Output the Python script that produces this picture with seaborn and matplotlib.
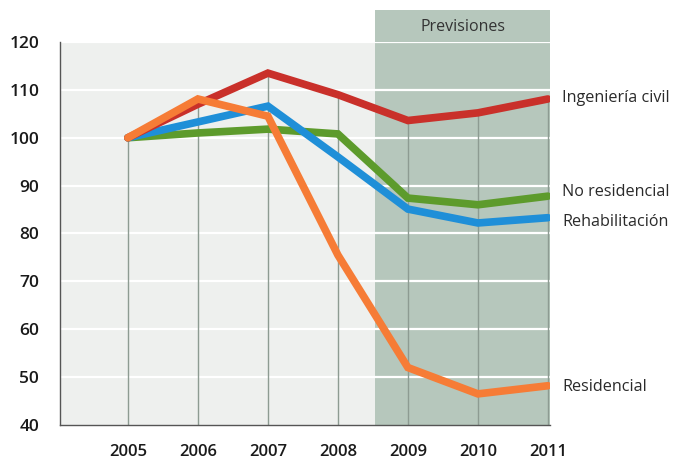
import matplotlib
matplotlib.use("Agg")
import matplotlib.pyplot as plt
import seaborn as sns
import pandas as pd
from matplotlib.patches import Rectangle

years = [2005, 2006, 2007, 2008, 2009, 2010, 2011]
ingenieria = [100, 107, 113.5, 109, 103.6, 105.2, 108.1]
rehabilitacion = [100, 103.3, 106.6, 96, 85.1, 82.2, 83.3]
no_residencial = [100, 101, 101.8, 100.8, 87.4, 86, 87.8]
residencial = [100, 108.1, 104.5, 75.5, 52, 46.5, 48.2]
series_names = ["No residencial", "Rehabilitación", "Ingeniería civil", "Residencial"]
series_vals = [no_residencial, rehabilitacion, ingenieria, residencial]
colors = {"Ingeniería civil": "#c9302a", "Rehabilitación": "#1f8fd8",
          "No residencial": "#5d9b2c", "Residencial": "#f67c36"}
yticks = [40, 50, 60, 70, 80, 90, 100, 110, 120]

rows = []
for name, vals in zip(series_names, series_vals):
    for y, v in zip(years, vals):
        rows.append({"year": y, "value": v, "serie": name})
df = pd.DataFrame(rows)

sns.set_theme(style="white")
plt.rcParams["font.family"] = ["Open Sans", "DejaVu Sans"]

fig = plt.figure(figsize=(6.74, 4.59), dpi=100)
ax = fig.add_axes([60/674, 34/459, 490/674, 383/459])
xmin, xmax = 2004.03, 2011.03
ymin, ymax = 40, 120
ax.set_xlim(xmin, xmax)
ax.set_ylim(ymin, ymax)

# backgrounds
ax.add_patch(Rectangle((xmin, ymin), 2008.53 - xmin, ymax - ymin,
                       facecolor="#eef0ee", edgecolor="none", zorder=0))
ax.add_patch(Rectangle((2008.53, ymin), xmax - 2008.53, 126.7 - ymin,
                       facecolor="#b6c7bc", edgecolor="none", zorder=0, clip_on=False))
# horizontal white grid
for t in yticks[1:]:
    ax.axhline(t, color="white", lw=1.6, zorder=1)
# vertical drop lines
tops = [max(v) for v in zip(*series_vals)]
ax.vlines(years, ymin, tops, color="#8d9b92", lw=1, zorder=1)

sns.lineplot(data=df, x="year", y="value", hue="serie", hue_order=series_names,
             palette=colors, lw=5.5, ax=ax, legend=False, zorder=3,
             solid_joinstyle="miter")

ax.text(2009.78, 123.1, "Previsiones", ha="center", va="center", fontsize=11.5,
        color="#333333", clip_on=False)

labels_pos = {"Ingeniería civil": 108.2, "No residencial": 88.7,
              "Rehabilitación": 82.5, "Residencial": 47.9}
for name, yv in labels_pos.items():
    ax.text(2011.2, yv, name, ha="left", va="center", fontsize=11.6,
            color="#2a2a2a", clip_on=False)

for s in ["top", "right"]:
    ax.spines[s].set_visible(False)
ax.spines["left"].set_color("#555555")
ax.spines["bottom"].set_color("#555555")
ax.spines["left"].set_linewidth(1)
ax.spines["bottom"].set_linewidth(1)
ax.set_yticks(yticks)
ax.set_yticklabels([str(t) for t in yticks], fontsize=12.5, color="#1a1a1a",
                   fontweight="semibold")
ax.set_xticks(years)
ax.set_xticklabels([str(y) for y in years], fontsize=12, color="#1a1a1a",
                   fontweight="semibold")
ax.tick_params(axis="y", direction="out", length=5, width=1, color="#555555", pad=10)
ax.tick_params(axis="x", direction="out", length=0, pad=14)
ax.set_xticks([xmin, 2011], minor=True)
ax.tick_params(axis="x", which="minor", direction="out", length=6, width=1, color="#555555")
ax.set_xlabel("")
ax.set_ylabel("")

fig.savefig("out.png", dpi=100, facecolor="white")
